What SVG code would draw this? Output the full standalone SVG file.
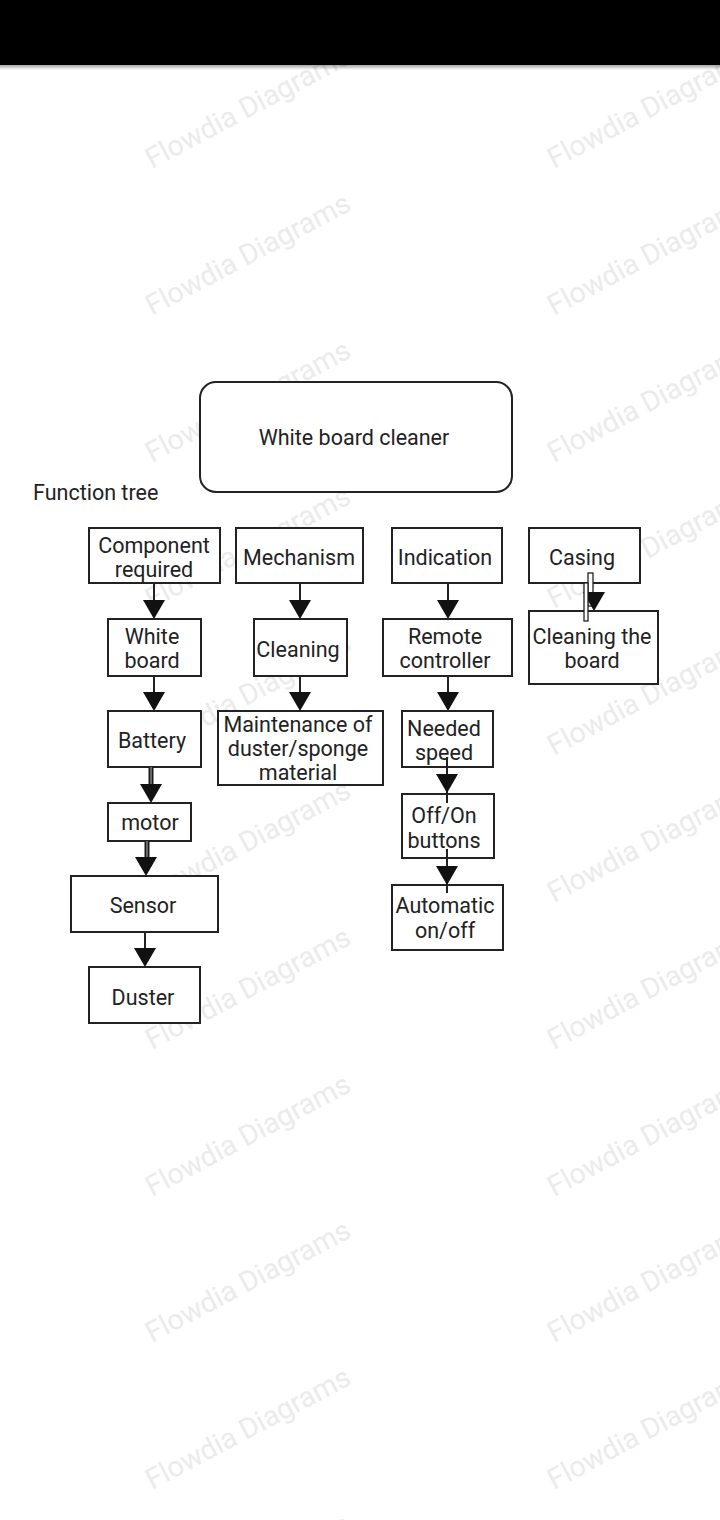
<svg xmlns="http://www.w3.org/2000/svg" xmlns:xlink="http://www.w3.org/1999/xlink" width="720" height="1520" viewBox="0 0 720 1520">
<style>
.box{fill:#fff;stroke:#222;stroke-width:2}
.t{font-family:Roboto,"Liberation Sans",Arial,sans-serif;font-size:21.5px;fill:#222;text-anchor:middle}
.tl{font-family:Roboto,"Liberation Sans",Arial,sans-serif;font-size:21.5px;fill:#222}
.wm{font-family:Roboto,"Liberation Sans",Arial,sans-serif;font-size:28.5px;fill:#ebebeb}
.ln{stroke:#222;stroke-width:2;fill:none}
.dbl{stroke:#1a1a1a;stroke-width:5;fill:none}
.dbli{stroke:#9a9a9a;stroke-width:1.2;fill:none}
.ah{fill:#111}
</style>
<defs>
<path id="ah" class="ah" d="M-11,-19 L11,-19 L0,0 z"/>
<linearGradient id="sh" x1="0" y1="0" x2="0" y2="1">
<stop offset="0" stop-color="#000" stop-opacity="0.35"/>
<stop offset="1" stop-color="#000" stop-opacity="0"/>
</linearGradient>
</defs>
<rect width="720" height="1520" fill="#fff"/>
<g id="watermarks">
<text class="wm" transform="translate(152,169) rotate(-28)">Flowdia Diagrams</text>
<text class="wm" transform="translate(152,316) rotate(-28)">Flowdia Diagrams</text>
<text class="wm" transform="translate(152,463) rotate(-28)">Flowdia Diagrams</text>
<text class="wm" transform="translate(152,609) rotate(-28)">Flowdia Diagrams</text>
<text class="wm" transform="translate(152,756) rotate(-28)">Flowdia Diagrams</text>
<text class="wm" transform="translate(152,903) rotate(-28)">Flowdia Diagrams</text>
<text class="wm" transform="translate(152,1050) rotate(-28)">Flowdia Diagrams</text>
<text class="wm" transform="translate(152,1197) rotate(-28)">Flowdia Diagrams</text>
<text class="wm" transform="translate(152,1343) rotate(-28)">Flowdia Diagrams</text>
<text class="wm" transform="translate(152,1490) rotate(-28)">Flowdia Diagrams</text>
<text class="wm" transform="translate(152,1637) rotate(-28)">Flowdia Diagrams</text>
<text class="wm" transform="translate(554,169) rotate(-28)">Flowdia Diagrams</text>
<text class="wm" transform="translate(554,316) rotate(-28)">Flowdia Diagrams</text>
<text class="wm" transform="translate(554,463) rotate(-28)">Flowdia Diagrams</text>
<text class="wm" transform="translate(554,609) rotate(-28)">Flowdia Diagrams</text>
<text class="wm" transform="translate(554,756) rotate(-28)">Flowdia Diagrams</text>
<text class="wm" transform="translate(554,903) rotate(-28)">Flowdia Diagrams</text>
<text class="wm" transform="translate(554,1050) rotate(-28)">Flowdia Diagrams</text>
<text class="wm" transform="translate(554,1197) rotate(-28)">Flowdia Diagrams</text>
<text class="wm" transform="translate(554,1343) rotate(-28)">Flowdia Diagrams</text>
<text class="wm" transform="translate(554,1490) rotate(-28)">Flowdia Diagrams</text>
<text class="wm" transform="translate(554,1637) rotate(-28)">Flowdia Diagrams</text>
</g>
<rect x="0" y="0" width="720" height="65" fill="#000"/>
<rect x="0" y="65" width="720" height="5" fill="url(#sh)"/>

<g id="root">
<rect class="box" x="200" y="382" width="312" height="110" rx="16"/>
<text class="t" x="354" y="445">White board cleaner</text>
</g>
<g id="label-function-tree">
<text class="tl" x="33" y="500">Function tree</text>
</g>

<g id="component-required">
<rect class="box" x="89" y="528" width="131" height="55"/>
<text class="t" x="154" y="553">Component</text>
<text class="t" x="154" y="577">required</text>
</g>
<g id="mechanism">
<rect class="box" x="236" y="528" width="127" height="55"/>
<text class="t" x="299" y="565">Mechanism</text>
</g>
<g id="indication">
<rect class="box" x="392" y="528" width="110" height="55"/>
<text class="t" x="445" y="565">Indication</text>
</g>
<g id="casing">
<rect class="box" x="529" y="528" width="111" height="55"/>
<text class="t" x="582" y="565">Casing</text>
</g>

<g id="white-board">
<rect class="box" x="108" y="619" width="93" height="57"/>
<text class="t" x="152" y="644">White</text>
<text class="t" x="152" y="668">board</text>
</g>
<g id="cleaning">
<rect class="box" x="254" y="619" width="93" height="57"/>
<text class="t" x="298" y="657">Cleaning</text>
</g>
<g id="remote-controller">
<rect class="box" x="383" y="619" width="129" height="57"/>
<text class="t" x="445" y="644">Remote</text>
<text class="t" x="445" y="668">controller</text>
</g>
<g id="cleaning-the-board">
<rect class="box" x="529" y="611" width="129" height="73"/>
<text class="t" x="592" y="644">Cleaning the</text>
<text class="t" x="592" y="668">board</text>
</g>

<g id="battery">
<rect class="box" x="108" y="711" width="93" height="56"/>
<text class="t" x="152" y="748">Battery</text>
</g>
<g id="maintenance">
<rect class="box" x="218" y="711" width="165" height="74"/>
<text class="t" x="298" y="732">Maintenance of</text>
<text class="t" x="298" y="756">duster/sponge</text>
<text class="t" x="298" y="780">material</text>
</g>
<g id="needed-speed">
<rect class="box" x="402" y="711" width="91" height="56"/>
<text class="t" x="444" y="736">Needed</text>
<text class="t" x="444" y="760">speed</text>
</g>

<g id="motor">
<rect class="box" x="108" y="803" width="83" height="38"/>
<text class="t" x="150" y="830">motor</text>
</g>
<g id="off-on-buttons">
<rect class="box" x="402" y="794" width="92" height="64"/>
<text class="t" x="444" y="823">Off/On</text>
<text class="t" x="444" y="848">buttons</text>
</g>

<g id="sensor">
<rect class="box" x="71" y="876" width="147" height="56"/>
<text class="t" x="143" y="913">Sensor</text>
</g>
<g id="automatic-on-off">
<rect class="box" x="392" y="885" width="111" height="65"/>
<text class="t" x="445" y="913">Automatic</text>
<text class="t" x="445" y="938">on/off</text>
</g>

<g id="duster">
<rect class="box" x="89" y="967" width="111" height="56"/>
<text class="t" x="143" y="1005">Duster</text>
</g>

<g id="connectors">
<line class="ln" x1="154" y1="583" x2="154" y2="605"/>
<use xlink:href="#ah" href="#ah" x="154" y="619"/>
<line class="ln" x1="154" y1="676" x2="154" y2="697"/>
<use xlink:href="#ah" href="#ah" x="154" y="711"/>
<line class="dbl" x1="151" y1="767" x2="151" y2="790"/>
<line class="dbli" x1="151" y1="767" x2="151" y2="788"/>
<use xlink:href="#ah" href="#ah" x="151" y="803"/>
<line class="dbl" x1="147" y1="841" x2="147" y2="863"/>
<line class="dbli" x1="147" y1="841" x2="147" y2="861"/>
<use xlink:href="#ah" href="#ah" x="146" y="876"/>
<line class="ln" x1="145" y1="932" x2="145" y2="953"/>
<use xlink:href="#ah" href="#ah" x="145" y="967"/>
<line class="ln" x1="300" y1="583" x2="300" y2="605"/>
<use xlink:href="#ah" href="#ah" x="300" y="619"/>
<line class="ln" x1="300" y1="676" x2="300" y2="697"/>
<use xlink:href="#ah" href="#ah" x="300" y="711"/>
<line class="ln" x1="448" y1="583" x2="448" y2="605"/>
<use xlink:href="#ah" href="#ah" x="448" y="619"/>
<line class="ln" x1="448" y1="676" x2="448" y2="697"/>
<use xlink:href="#ah" href="#ah" x="448" y="711"/>
<line class="ln" x1="447" y1="757" x2="447" y2="803"/>
<use xlink:href="#ah" href="#ah" x="447" y="793"/>
<line class="ln" x1="447" y1="849" x2="447" y2="893"/>
<use xlink:href="#ah" href="#ah" x="447" y="885"/>
<rect x="588" y="573" width="5" height="33" fill="#fff" stroke="#222" stroke-width="1.3"/>
<use xlink:href="#ah" href="#ah" x="594" y="611"/>
<rect x="584" y="583" width="4" height="38" fill="#fff" stroke="#222" stroke-width="1.3"/>
</g>
</svg>
